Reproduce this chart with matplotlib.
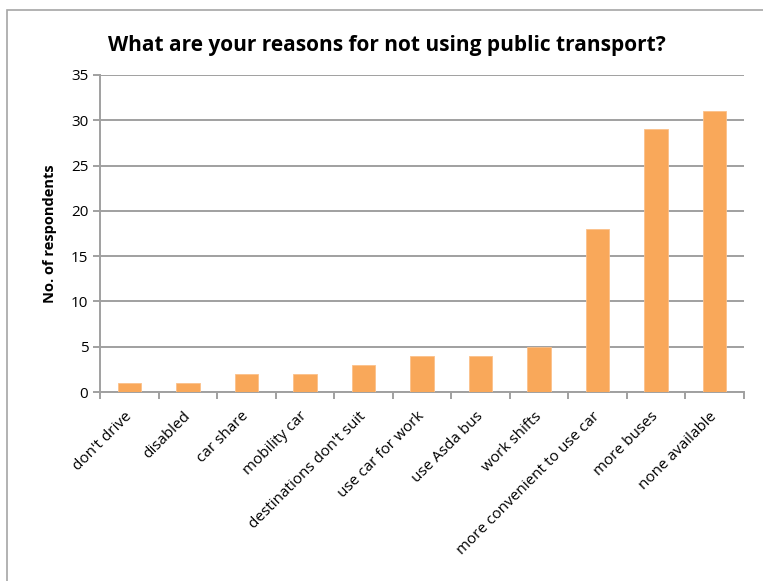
import matplotlib.pyplot as plt
from matplotlib.patches import Rectangle

reasons = ["don't drive", 'disabled', 'car share', 'mobility car',
           "destinations don't suit", 'use car for work', 'use Asda bus',
           'work shifts', 'more convenient to use car', 'more buses',
           'none available']
respondents = [1, 1, 2, 2, 3, 4, 4, 5, 18, 29, 31]

plt.rcParams['font.family'] = ['Open Sans', 'DejaVu Sans']

fig = plt.figure(figsize=(7.63, 5.81), dpi=100)
fig.patches.append(Rectangle((7 / 763, -0.1), 1.2, 1 - 10 / 581 + 0.1,
                             transform=fig.transFigure, fill=False,
                             edgecolor='#a6a6a6', linewidth=1.2))
ax = fig.add_axes([100 / 763, 1 - 392 / 581, 644 / 763, 317 / 581])

x = range(len(reasons))
ax.bar(x, respondents, width=0.4, color='#f9a85a', edgecolor='#fbc08a',
       linewidth=0.6, zorder=3)

ax.set_xlim(-0.5, len(reasons) - 0.5)
ax.set_ylim(0, 35)
ax.set_yticks(range(0, 36, 5))
ax.yaxis.grid(True, color='#a0a0a0', linewidth=1.4)
ax.set_axisbelow(True)

ax.set_xticks(x)
ax.set_xticklabels(reasons, rotation=45, ha='right', va='center',
                   rotation_mode='anchor', fontsize=11)
ax.tick_params(axis='x', length=0, pad=16)
ax.set_xticks([i - 0.5 for i in range(len(reasons) + 1)], minor=True)
ax.tick_params(axis='x', which='minor', length=5, color='#a0a0a0', width=1.4)
ax.tick_params(axis='y', length=5, color='#a0a0a0', width=1.4, labelsize=11)

for side in ['top', 'right']:
    ax.spines[side].set_visible(False)
for side in ['left', 'bottom']:
    ax.spines[side].set_color('#a0a0a0')
    ax.spines[side].set_linewidth(1.4)

ax.set_ylabel('No. of respondents', fontsize=10.5, fontweight='bold', labelpad=10)
fig.text(387 / 763, 1 - 45 / 581, 'What are your reasons for not using public transport?',
         ha='center', va='center', fontsize=15, fontweight='bold')

fig.savefig('out.png', dpi=100)
